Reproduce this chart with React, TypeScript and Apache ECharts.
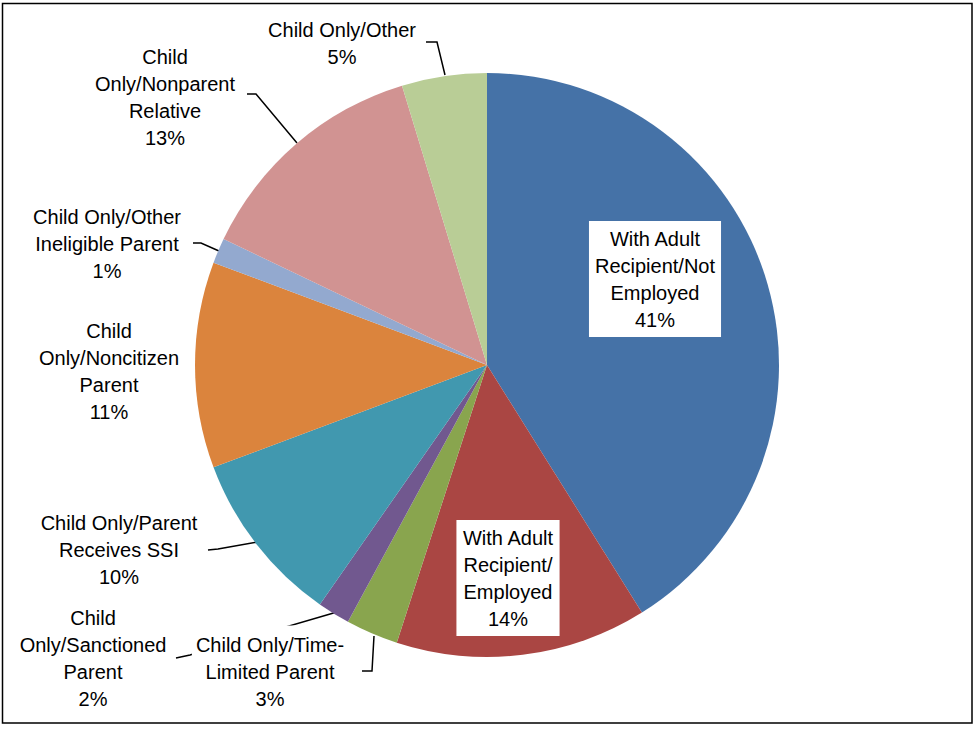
import React, { useEffect, useRef } from "react";
import * as echarts from "echarts";

// Categories in clockwise order from 12 o'clock
const categories = [
  "With Adult Recipient/Not Employed",
  "With Adult Recipient/Employed",
  "Child Only/Time-Limited Parent",
  "Child Only/Sanctioned Parent",
  "Child Only/Parent Receives SSI",
  "Child Only/Noncitizen Parent",
  "Child Only/Other Ineligible Parent",
  "Child Only/Nonparent Relative",
  "Child Only/Other",
];

// Shares (percent of cases)
const shares = [41.1, 13.9, 2.9, 1.8, 9.6, 11.4, 1.4, 13.2, 4.7];

// Label text as wrapped in the reference
const labelText = [
  "With Adult\nRecipient/Not\nEmployed",
  "With Adult\nRecipient/\nEmployed",
  "Child Only/Time-\nLimited Parent",
  "Child\nOnly/Sanctioned\nParent",
  "Child Only/Parent\nReceives SSI",
  "Child\nOnly/Noncitizen\nParent",
  "Child Only/Other\nIneligible Parent",
  "Child\nOnly/Nonparent\nRelative",
  "Child Only/Other",
];

const colors = [
  "#4572A7",
  "#AA4643",
  "#89A54E",
  "#71588F",
  "#4198AF",
  "#DB843D",
  "#93A9CF",
  "#D19392",
  "#B9CD96",
];

// Layout hints for labels (centre of label block) and leader lines
const labelPos: { x: number; y: number; line?: number[][]; inside?: boolean; bg?: boolean }[] = [
  { x: 655, y: 279, inside: true },
  { x: 508, y: 578, inside: true },
  { x: 270, y: 672, line: [[374, 636], [372, 671], [362, 671]], bg: true },
  { x: 93, y: 658, line: [[337, 612], [190, 655], [176, 658]] },
  { x: 119, y: 550, line: [[258, 542], [218, 549], [208, 550]] },
  { x: 109, y: 371 },
  { x: 107, y: 244, line: [[219, 251], [201, 243], [193, 243]] },
  { x: 165, y: 97, line: [[297, 143], [256, 94], [247, 94]] },
  { x: 342, y: 43, line: [[445, 75], [437, 42], [426, 42]] },
];

const FONT = "'Liberation Sans', Arial, sans-serif";

export default function App() {
  const ref = useRef<HTMLDivElement>(null);
  useEffect(() => {
    if (!ref.current) return;
    const chart = echarts.init(ref.current, null, { renderer: "svg" });
    const total = shares.reduce((a, b) => a + b, 0);
    const data = categories.map((name, i) => {
      const lp = labelPos[i];
      const pct = Math.round((shares[i] / total) * 100);
      return {
        name,
        value: shares[i],
        itemStyle: { color: colors[i] },
        label: {
          show: true,
          position: lp.inside ? "inside" : "outside",
          formatter: labelText[i] + "\n" + pct + "%",
          backgroundColor: lp.inside || lp.bg ? "#ffffff" : "transparent",
          padding: lp.inside ? [4, 6] : lp.bg ? [10, 4, 2, 4] : 0,
        },
        labelLine: { show: !!lp.line },
      };
    });
    chart.setOption({
      animation: false,
      backgroundColor: "#ffffff",
      graphic: [
        {
          type: "rect",
          shape: { x: 2.5, y: 3.5, width: 969.5, height: 719.5 },
          style: { fill: "none", stroke: "#000", lineWidth: 1.5 },
          z: 100,
        },
      ],
      series: [
        {
          type: "pie",
          center: [487, 365],
          radius: [0, 292],
          startAngle: 90,
          clockwise: true,
          avoidLabelOverlap: false,
          data,
          label: {
            color: "#000",
            fontFamily: FONT,
            fontSize: 20,
            lineHeight: 27,
            align: "center",
          },
          labelLine: {
            lineStyle: { color: "#000", width: 1.5 },
          },
          emphasis: { disabled: true },
          labelLayout: (params: any) => {
            const lp = labelPos[params.dataIndex];
            const out: any = {
              x: lp.x,
              y: lp.y,
              align: "center",
              verticalAlign: "middle",
            };
            if (lp.line) out.labelLinePoints = lp.line;
            return out;
          },
        },
      ],
    });
    return () => chart.dispose();
  }, []);
  return (
    <div
      ref={ref}
      style={{ position: "fixed", left: 0, top: 0, width: 978, height: 730, background: "#fff" }}
    />
  );
}
